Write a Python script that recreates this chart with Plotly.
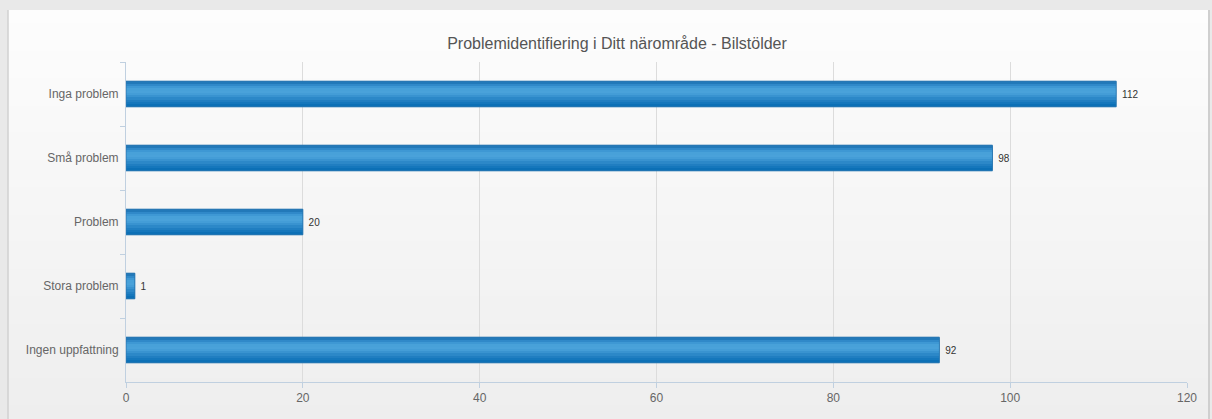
import plotly.graph_objects as go

# ---- data ----
categories = ["Inga problem", "Små problem", "Problem", "Stora problem", "Ingen uppfattning"]
values = [112, 98, 20, 1, 92]
x_ticks = [0, 20, 40, 60, 80, 100, 120]
title_text = "Problemidentifiering i Ditt närområde - Bilstölder"

W, H = 1212, 419
L, R, T, B = 126, 1187, 62, 382  # plot-area pixel box

def px2x(px):
    return (px - L) / (R - L)

def px2y(py):
    return (B - py) / (B - T)

FONT = "Liberation Sans, Arial, sans-serif"

fig = go.Figure()

# bar stripes to imitate the vertical gradient of the bars
bar_w = 0.4
stripe_colors = ["#2279b9", "#3089c9", "#3e98d4", "#48a1d9", "#4aa2da", "#449dd7",
                 "#3993d0", "#2c88c8", "#207ec1", "#1577bc", "#0c70b6"]
n = len(stripe_colors)
sw = bar_w / n
for i, c in enumerate(stripe_colors):
    fig.add_trace(go.Bar(
        x=values, y=categories, orientation="h",
        width=sw * 1.15, offset=-bar_w / 2 + i * sw,
        marker=dict(color=c, line=dict(width=0)),
        hoverinfo="skip", showlegend=False,
    ))

# outline + value labels
fig.add_trace(go.Bar(
    x=values, y=categories, orientation="h", width=bar_w,
    marker=dict(color="rgba(0,0,0,0)", line=dict(color="#2a78b2", width=1)),
    text=[" " + str(v) for v in values], textposition="outside",
    textfont=dict(family=FONT, size=10, color="#333333"),
    cliponaxis=False, showlegend=False,
))

# panel background (gradient bands) on a light-gray page
shapes = []
top_px, bot_px, left_px, right_px = 10, 419, 8, 1209
nb = 30
c0 = (253, 253, 253)
c1 = (238, 238, 238)
for k in range(nb):
    y0 = top_px + (bot_px - top_px) * k / nb
    y1 = top_px + (bot_px - top_px) * (k + 1) / nb + 0.8
    t = k / (nb - 1)
    col = "rgb(%d,%d,%d)" % tuple(round(a + (b - a) * t) for a, b in zip(c0, c1))
    shapes.append(dict(type="rect", xref="paper", yref="paper", layer="below",
                       x0=px2x(left_px), x1=px2x(right_px), y0=px2y(y1), y1=px2y(y0),
                       fillcolor=col, line=dict(width=0)))
# panel borders
shapes.append(dict(type="line", xref="paper", yref="paper", layer="below",
                   x0=px2x(left_px), x1=px2x(left_px), y0=px2y(bot_px), y1=px2y(top_px),
                   line=dict(color="#d0d0d0", width=1.5)))
shapes.append(dict(type="line", xref="paper", yref="paper", layer="below",
                   x0=px2x(right_px), x1=px2x(right_px), y0=px2y(bot_px), y1=px2y(top_px),
                   line=dict(color="#cfcfcf", width=2)))

fig.update_layout(
    width=W, height=H,
    margin=dict(l=L, r=W - R, t=T, b=H - B, autoexpand=False),
    paper_bgcolor="#e9e9e9",
    plot_bgcolor="rgba(0,0,0,0)",
    barmode="overlay",
    bargap=0,
    shapes=shapes,
    title=dict(text=title_text, x=617 / W, xref="container", xanchor="center",
               y=1 - 43 / H, yref="container", yanchor="middle",
               font=dict(family=FONT, size=16, color="#555555")),
    font=dict(family=FONT, size=12, color="#666666"),
    xaxis=dict(range=[0, 120], tickvals=x_ticks, showgrid=True, gridcolor="#dcdcdc",
               gridwidth=1, zeroline=False, showline=True, linecolor="#c0d0e0",
               linewidth=1, ticks="outside", ticklen=5, tickcolor="#c0d0e0",
               tickfont=dict(family=FONT, size=12, color="#666666"), fixedrange=True),
    yaxis=dict(type="category", categoryorder="array", categoryarray=categories,
               autorange="reversed", showgrid=False, zeroline=False, showline=True,
               linecolor="#c0d0e0", linewidth=1, ticks="outside", ticklen=5,
               tickcolor="#c0d0e0", tickson="boundaries", ticklabelstandoff=4,
               tickfont=dict(family=FONT, size=12, color="#666666"), fixedrange=True),
)

fig.write_html(
    "out.html",
    config={"displayModeBar": False, "staticPlot": True},
    post_script="document.body.style.margin='0';document.body.style.background='#e9e9e9';",
)
